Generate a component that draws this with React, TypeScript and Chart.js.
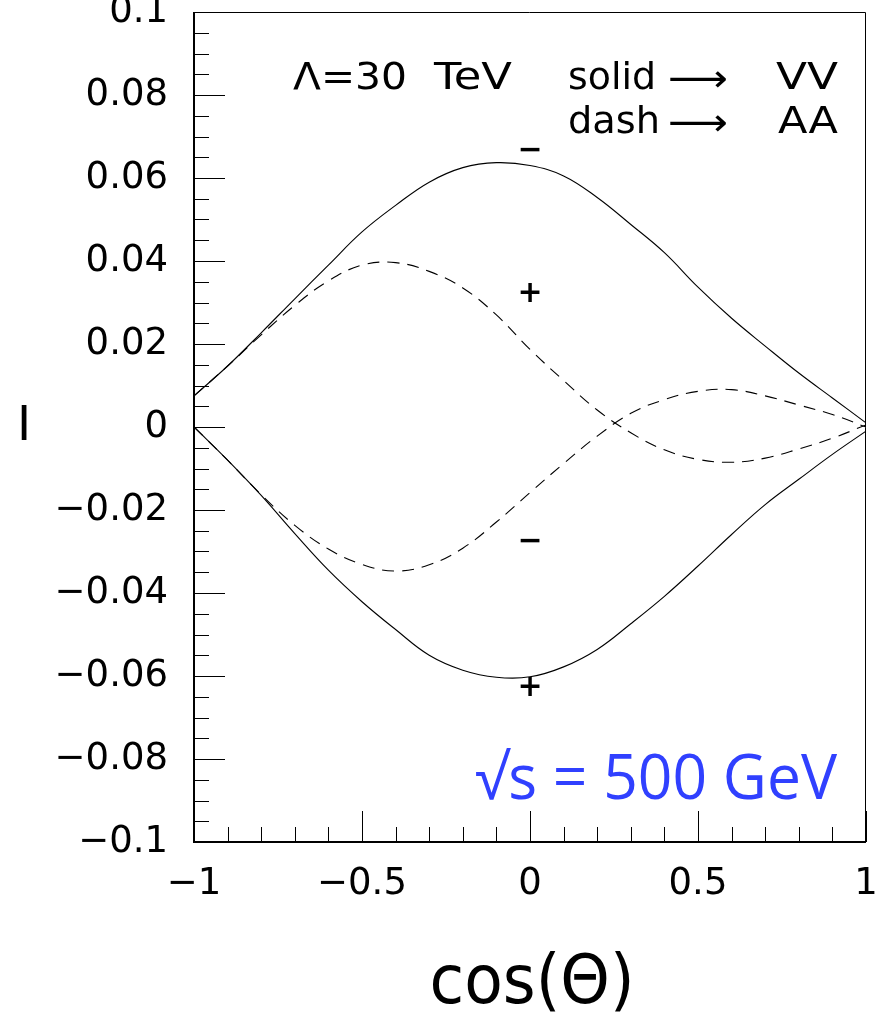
import { useEffect, useRef } from "react";
import { Chart, registerables } from "chart.js";

Chart.register(...registerables);

// cos(Theta) sampling points
const cosTheta = [-1, -0.9, -0.8, -0.7, -0.6, -0.5, -0.4, -0.3, -0.2, -0.1, 0, 0.1, 0.2, 0.3, 0.4, 0.5, 0.6, 0.7, 0.8, 0.9, 1];
// solid -> VV
const vvUpper = [0.0075, 0.0147, 0.0227, 0.0309, 0.039, 0.047, 0.0534, 0.059, 0.0625, 0.0637, 0.063, 0.0605, 0.0553, 0.0488, 0.042, 0.0337, 0.0262, 0.0195, 0.013, 0.007, 0.001];
const vvLower = [0.0, -0.008, -0.0165, -0.0257, -0.0345, -0.0421, -0.0488, -0.055, -0.0586, -0.0603, -0.0602, -0.0578, -0.0536, -0.0474, -0.0408, -0.0335, -0.0259, -0.0187, -0.0126, -0.0066, -0.001];
// dash -> AA
const aaUpper = [0.0075, 0.0147, 0.0222, 0.0293, 0.0352, 0.039, 0.0396, 0.0375, 0.0335, 0.027, 0.0187, 0.0112, 0.0041, -0.0014, -0.0055, -0.0078, -0.0085, -0.0075, -0.0053, -0.0027, 0.0005];
const aaLower = [0.0, -0.008, -0.0163, -0.0237, -0.0294, -0.0331, -0.0347, -0.0332, -0.0292, -0.0229, -0.0158, -0.0088, -0.0022, 0.0033, 0.0066, 0.0086, 0.009, 0.0075, 0.0053, 0.003, 0.0];

const yTickValues = [0.1, 0.08, 0.06, 0.04, 0.02, 0, -0.02, -0.04, -0.06, -0.08, -0.1];
const yTickLabels = ["0.1", "0.08", "0.06", "0.04", "0.02", "0", "\u22120.02", "\u22120.04", "\u22120.06", "\u22120.08", "\u22120.1"];
const xTickValues = [-1, -0.5, 0, 0.5, 1];
const xTickLabels = ["\u22121", "\u22120.5", "0", "0.5", "1"];

const signMarkerX = [0, 0, 0, 0];
const signMarkerY = [0.0665, 0.032, -0.0277, -0.0629];
const signMarkerLabels = ["\u2212", "+", "\u2212", "+"];

function fitText(ctx: CanvasRenderingContext2D, text: string, x: number, y: number, font: string, width: number | null, align: CanvasTextAlign = "left") {
  ctx.save();
  ctx.font = font;
  const w = ctx.measureText(text).width;
  const sx = width ? width / w : 1;
  ctx.translate(x, y);
  ctx.scale(sx, 1);
  ctx.textAlign = align;
  ctx.textBaseline = "middle";
  ctx.fillText(text, 0, 0);
  ctx.restore();
}

const framePlugin = {
  id: "rootFrame",
  afterDraw(chart: any) {
    const ctx: CanvasRenderingContext2D = chart.ctx;
    const a = chart.chartArea;
    const xs = chart.scales.x;
    const ys = chart.scales.y;
    ctx.save();
    ctx.strokeStyle = "#000";
    ctx.fillStyle = "#000";
    ctx.lineWidth = 1;
    // y ticks (inside frame)
    for (let i = -20; i <= 20; i++) {
      const py = Math.round(ys.getPixelForValue(i * 0.005)) + 0.5;
      const major = i % 4 === 0;
      ctx.beginPath();
      ctx.moveTo(a.left, py);
      ctx.lineTo(a.left + (major ? 31 : 15), py);
      ctx.stroke();
    }
    // x ticks (inside frame)
    for (let i = -10; i <= 10; i++) {
      const px = Math.round(xs.getPixelForValue(i * 0.1)) + 0.5;
      const major = i % 5 === 0;
      ctx.beginPath();
      ctx.moveTo(px, a.bottom);
      ctx.lineTo(px, a.bottom - (major ? 31 : 15));
      ctx.stroke();
    }
    // frame
    ctx.lineWidth = 1;
    ctx.beginPath();
    ctx.moveTo(a.left, a.top + 0.5);
    ctx.lineTo(a.right - 0.5, a.top + 0.5);
    ctx.lineTo(a.right - 0.5, a.bottom);
    ctx.stroke();
    ctx.lineWidth = 2;
    ctx.beginPath();
    ctx.moveTo(a.left, a.top);
    ctx.lineTo(a.left, a.bottom);
    ctx.lineTo(a.right, a.bottom);
    ctx.stroke();

    // tick labels
    const tickFont = "37px 'DejaVu Sans'";
    yTickValues.forEach((v, i) => {
      fitText(ctx, yTickLabels[i], 168, ys.getPixelForValue(v), tickFont, null, "right");
    });
    xTickValues.forEach((v, i) => {
      fitText(ctx, xTickLabels[i], xs.getPixelForValue(v), 884, tickFont, null, "center");
    });

    // axis titles
    fitText(ctx, "I", 24, 428, "48px 'DejaVu Sans'", null, "center");
    fitText(ctx, "cos(\u0398)", 532, 985, "68px 'DejaVu Sans'", 205, "center");

    // annotations
    const f = "38px 'DejaVu Sans'";
    fitText(ctx, "\u039B=30", 293, 79, f, 114, "left");
    fitText(ctx, "TeV", 512, 79, f, 78, "right");
    fitText(ctx, "solid", 568, 79, f, 88, "left");
    fitText(ctx, "\u27F6", 668, 81, f, 60, "left");
    fitText(ctx, "VV", 838, 79, f, 62, "right");
    fitText(ctx, "dash", 568, 123, f, 92, "left");
    fitText(ctx, "\u27F6", 668, 125, f, 60, "left");
    fitText(ctx, "AA", 838, 123, f, 60, "right");

    // sign markers
    signMarkerLabels.forEach((s, i) => {
      fitText(ctx, s, xs.getPixelForValue(signMarkerX[i]), ys.getPixelForValue(signMarkerY[i]), "bold 30px 'DejaVu Sans'", null, "center");
    });

    // energy label
    ctx.fillStyle = "#3040ff";
    fitText(ctx, "\u221As = 500 GeV", 475, 781, "62px 'Open Sans', 'DejaVu Sans'", 362, "left");
    ctx.restore();
  },
};

function toPoints(ys: number[]) {
  return cosTheta.map((x, i) => ({ x, y: ys[i] }));
}

export default function App() {
  const ref = useRef<HTMLCanvasElement | null>(null);
  useEffect(() => {
    if (!ref.current) return;
    const base = {
      borderColor: "#000",
      borderWidth: 1.1,
      pointRadius: 0,
      fill: false,
      tension: 0.4,
    };
    const chart = new Chart(ref.current, {
      type: "line",
      data: {
        datasets: [
          { ...base, label: "VV upper", data: toPoints(vvUpper) },
          { ...base, label: "VV lower", data: toPoints(vvLower) },
          { ...base, label: "AA upper", data: toPoints(aaUpper), borderDash: [12, 8] },
          { ...base, label: "AA lower", data: toPoints(aaLower), borderDash: [12, 8] },
        ],
      },
      options: {
        animation: false,
        responsive: false,
        devicePixelRatio: 1,
        layout: { padding: { left: 194, top: 12, right: 20, bottom: 181 } },
        plugins: { legend: { display: false }, tooltip: { enabled: false } },
        scales: {
          x: { type: "linear", min: -1, max: 1, display: false },
          y: { type: "linear", min: -0.1, max: 0.1, display: false },
        },
      },
      plugins: [framePlugin],
    });
    return () => chart.destroy();
  }, []);
  return (
    <div style={{ position: "absolute", left: 0, top: 0, width: 886, height: 1023, background: "#fff" }}>
      <canvas ref={ref} width={886} height={1023} style={{ display: "block" }} />
    </div>
  );
}
